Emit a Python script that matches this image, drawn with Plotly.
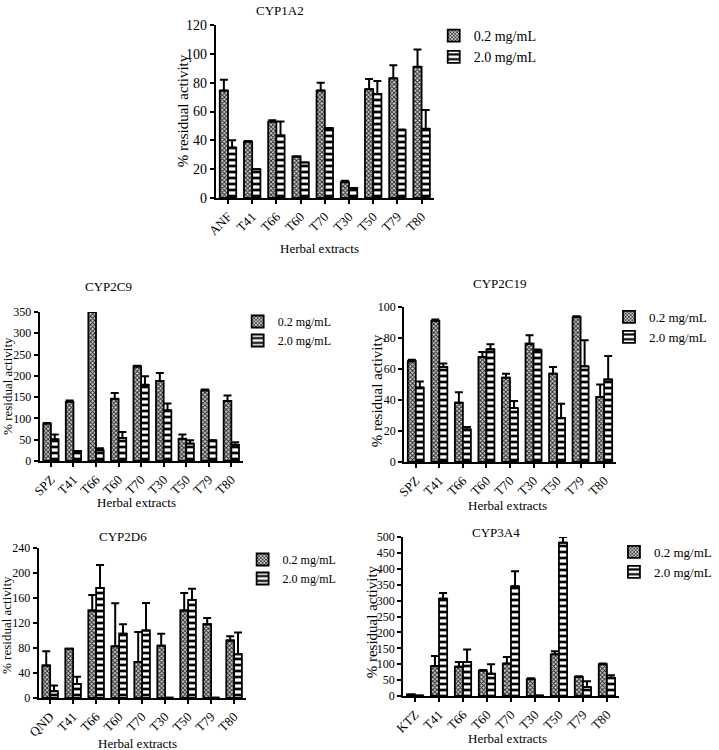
import plotly.graph_objects as go

# ---------------- data ----------------
cats_1a2 = ["ANF", "T41", "T66", "T60", "T70", "T30", "T50", "T79", "T80"]
cyp1a2_low = [74.5, 39, 53, 28.8, 74.5, 11, 75.5, 83, 91]
cyp1a2_low_err = [7.5, 0.5, 1, 0, 5.5, 1, 7, 9, 12]
cyp1a2_high = [35, 20, 43.4, 24.7, 48.5, 7, 72.2, 47.3, 48]
cyp1a2_high_err = [5, 0, 9.6, 0, 0, 0, 9, 0.3, 13]

cats_2c9 = ["SPZ", "T41", "T66", "T60", "T70", "T30", "T50", "T79", "T80"]
cyp2c9_low = [88, 139, 350, 146, 222, 188, 52, 166, 141]
cyp2c9_low_err = [1, 3, 0, 14, 2, 19, 10, 2, 13]
cyp2c9_high = [51, 23.5, 25, 54, 179, 119, 41, 48.5, 38]
cyp2c9_high_err = [11, 0, 5, 14, 20, 16, 8, 0, 6]

cats_2c19 = ["SPZ", "T41", "T66", "T60", "T70", "T30", "T50", "T79", "T80"]
cyp2c19_low = [65, 91, 38.3, 67.7, 54.4, 76.3, 57, 93.5, 42]
cyp2c19_low_err = [1, 1, 6.7, 3.3, 2.6, 5.4, 4.3, 0.5, 8]
cyp2c19_high = [48, 61.3, 21, 72.7, 34.8, 72, 28.4, 61.7, 53.3]
cyp2c19_high_err = [4, 2.2, 1.6, 3.3, 4.6, 0.5, 9.2, 16.8, 15.1]

cats_2d6 = ["QND", "T41", "T66", "T60", "T70", "T30", "T50", "T79", "T80"]
cyp2d6_low = [52, 79, 140, 82.7, 57.6, 83.7, 140, 118, 92]
cyp2d6_low_err = [23, 0, 25, 69, 48, 19, 28, 10, 6.7]
cyp2d6_high = [11, 22.4, 176, 103, 108, 0.5, 157, 0.5, 70]
cyp2d6_high_err = [9, 11.6, 37, 15, 44, 0, 18, 0, 35]

cats_3a4 = ["KTZ", "T41", "T66", "T60", "T70", "T30", "T50", "T79", "T80"]
cyp3a4_low = [5, 94, 92, 80, 102, 53, 131, 60, 100]
cyp3a4_low_err = [0, 32, 15, 2, 21, 3, 10, 2, 2]
cyp3a4_high = [1.5, 306, 107, 70, 345, 1.5, 482, 28, 57]
cyp3a4_high_err = [0, 18, 39, 30, 47, 0, 18, 18, 8]

series_names = ["0.2 mg/mL", "2.0 mg/mL"]
x_title = "Herbal extracts"
y_title = "% residual activity"

W, H = 719, 750
ML, MR, MT, MB = 2, 2, 2, 2
PW, PH = W - ML - MR, H - MT - MB
FONT = "Liberation Serif"

def px_x(s):
    return (s - ML) / PW

def px_y(s):
    return (H - MB - s) / PH

# per panel layout (screen pixels):
#  axis x0, x1, ytop, ybot ; legend text x, first row centre y, legend font ;
#  title (x, y) ; x-title (x, y) ; y-title (x, y, size) ; y tick font
panels = [
    dict(title="CYP1A2", cats=cats_1a2, lo=cyp1a2_low, loe=cyp1a2_low_err,
         hi=cyp1a2_high, hie=cyp1a2_high_err, ymax=120, dtick=20,
         ax=(218, 438, 25, 198), leg=(478, 35, 14), t=(283, 10), xt=(323, 248),
         yt=(185, 111, 15), ytf=14),
    dict(title="CYP2C9", cats=cats_2c9, lo=cyp2c9_low, loe=cyp2c9_low_err,
         hi=cyp2c9_high, hie=cyp2c9_high_err, ymax=350, dtick=50,
         ax=(40, 245, 312, 461), leg=(280, 322, 12), t=(110, 286), xt=(138, 502),
         yt=(7, 386, 13), ytf=12),
    dict(title="CYP2C19", cats=cats_2c19, lo=cyp2c19_low, loe=cyp2c19_low_err,
         hi=cyp2c19_high, hie=cyp2c19_high_err, ymax=100, dtick=20,
         ax=(408, 622, 307, 462), leg=(655, 317, 13), t=(504, 283), xt=(513, 505),
         yt=(381, 391, 15), ytf=12),
    dict(title="CYP2D6", cats=cats_2d6, lo=cyp2d6_low, loe=cyp2d6_low_err,
         hi=cyp2d6_high, hie=cyp2d6_high_err, ymax=240, dtick=40,
         ax=(39, 248, 548, 698), leg=(285, 560, 12), t=(124, 537), xt=(139, 743),
         yt=(6, 625, 13), ytf=12),
    dict(title="CYP3A4", cats=cats_3a4, lo=cyp3a4_low, loe=cyp3a4_low_err,
         hi=cyp3a4_high, hie=cyp3a4_high_err, ymax=500, dtick=50,
         ax=(407, 625, 537, 696), leg=(660, 552, 13), t=(501, 533), xt=(513, 738),
         yt=(376, 622, 15), ytf=12),
]

fig = go.Figure()
annotations = []
layout = {}

pattern_styles = [
    dict(shape="x", size=3, solidity=0.5, fgcolor="#222222", bgcolor="#cfcfcf", fillmode="replace"),
    dict(shape="-", size=6, solidity=0.45, fgcolor="black", bgcolor="white", fillmode="replace"),
]

def ann(text, x, y, size, angle=0):
    return dict(text=text, x=px_x(x), y=px_y(y), xref="paper", yref="paper",
                xanchor="center", yanchor="middle", showarrow=False, textangle=angle,
                font=dict(family=FONT, size=size, color="black"))

for i, p in enumerate(panels):
    idx = "" if i == 0 else str(i + 1)
    xa, ya = "x" + idx, "y" + idx
    leg = "legend" + idx
    for s, (vals, errs) in enumerate([(p["lo"], p["loe"]), (p["hi"], p["hie"])]):
        fig.add_trace(go.Bar(
            x=p["cats"], y=vals, name=series_names[s], xaxis=xa, yaxis=ya, legend=leg,
            marker=dict(line=dict(color="black", width=1.8),
                        pattern=pattern_styles[s]),
            error_y=dict(type="data", symmetric=False, array=errs,
                         arrayminus=[0] * len(errs), color="black",
                         thickness=2, width=4),
        ))
    x0, x1, ytop, ybot = p["ax"]
    layout["xaxis" + idx] = dict(
        domain=[px_x(x0), px_x(x1)], anchor=ya, type="category",
        range=[-0.5, 8.5], showline=True, linecolor="black", linewidth=2,
        ticks="outside", ticklen=4, tickwidth=1.5, tickcolor="black",
        tickangle=-45, showgrid=False, zeroline=False, automargin=False,
        tickfont=dict(family=FONT, size=13, color="black"),
    )
    layout["yaxis" + idx] = dict(
        domain=[px_y(ybot), px_y(ytop)], anchor=xa, range=[0, p["ymax"]], dtick=p["dtick"],
        showline=True, linecolor="black", linewidth=2,
        ticks="outside", ticklen=4, tickwidth=1.5, tickcolor="black",
        showgrid=False, zeroline=False, automargin=False,
        tickfont=dict(family=FONT, size=p["ytf"], color="black"),
    )
    lx, ly, lfs = p["leg"]
    layout[leg] = dict(
        x=px_x(lx - 40), y=px_y(ly - 15), xanchor="left", yanchor="top",
        bgcolor="rgba(0,0,0,0)", font=dict(family=FONT, size=lfs, color="black"),
        itemwidth=30, tracegroupgap=0, borderwidth=0,
    )
    annotations.append(ann(p["title"], p["t"][0], p["t"][1], 13))
    annotations.append(ann(x_title, p["xt"][0], p["xt"][1], 13))
    annotations.append(ann(y_title, p["yt"][0], p["yt"][1], p["yt"][2], -90))

fig.update_layout(
    width=W, height=H, margin=dict(l=ML, r=MR, t=MT, b=MB),
    font=dict(family=FONT, color="black"),
    paper_bgcolor="white", plot_bgcolor="white",
    barmode="group", bargap=0.32, bargroupgap=0.0,
    annotations=annotations, **layout,
)

# remove the browser's default 8px page margin so the figure fills the window
fig.write_html("out.html", config={"displayModeBar": False},
               post_script="document.body.style.margin='0px';")
